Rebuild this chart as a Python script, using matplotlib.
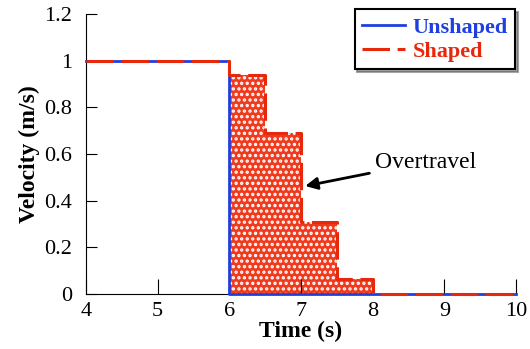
import matplotlib.pyplot as plt

plt.rcParams['font.family'] = ['Liberation Serif', 'DejaVu Serif']
plt.rcParams['hatch.linewidth'] = 1.6

time_unshaped = [4, 6, 6, 10]
vel_unshaped = [1, 1, 0, 0]

time_shaped = [4, 6, 6.5, 7, 7.5, 8, 10]
vel_shaped = [1, 0.94, 0.69, 0.31, 0.065, 0, 0]

fig = plt.figure(figsize=(5.3, 3.49), dpi=100)
ax = fig.add_axes([0.162, 0.158, 0.812, 0.802])

# overtravel area between the two responses
ax.fill_between(time_shaped[1:], vel_shaped[1:], 0, step='post',
                facecolor='#f03a1e', edgecolor='white', hatch='...', lw=0, zorder=1)

ax.plot(time_unshaped, vel_unshaped, color='#1f3fe0', lw=2, label='Unshaped',
        zorder=3, clip_on=False)
ax.step(time_shaped, vel_shaped, where='post', color='#e8280c', lw=2.2,
        dashes=(9, 2.5), label='Shaped', zorder=4, clip_on=False)

ax.set_xlim(4, 10)
ax.set_ylim(0, 1.2)
ax.set_xticks([4, 5, 6, 7, 8, 9, 10])
ax.set_yticks([0, 0.2, 0.4, 0.6, 0.8, 1, 1.2])
ax.set_yticklabels(['0', '0.2', '0.4', '0.6', '0.8', '1', '1.2'])
ax.tick_params(direction='in', labelsize=16)
ax.tick_params(axis='x', length=11, pad=6)
ax.tick_params(axis='y', length=8, pad=10)
ax.spines['top'].set_visible(False)
ax.spines['right'].set_visible(False)

ax.set_xlabel('Time (s)', fontsize=17, fontweight='bold', labelpad=0)
ax.set_ylabel('Velocity (m/s)', fontsize=17, fontweight='bold', labelpad=3)

ax.annotate('Overtravel', xy=(7.02, 0.46), xytext=(8.03, 0.565),
            fontsize=17, va='center', ha='left',
            arrowprops=dict(arrowstyle='-|>', color='black', lw=2, mutation_scale=18))

leg = ax.legend(loc='upper right', bbox_to_anchor=(0.998, 1.016), fontsize=16,
                frameon=True, fancybox=False, shadow=True, handlelength=1.9,
                borderaxespad=0.0, labelspacing=0.15, handletextpad=0.35,
                borderpad=0.35)
leg.get_frame().set_edgecolor('black')
leg.get_frame().set_linewidth(1.5)
for txt, c in zip(leg.get_texts(), ['#1f3fe0', '#e8280c']):
    txt.set_color(c)
    txt.set_fontweight('bold')

fig.savefig('out.png', dpi=100)
